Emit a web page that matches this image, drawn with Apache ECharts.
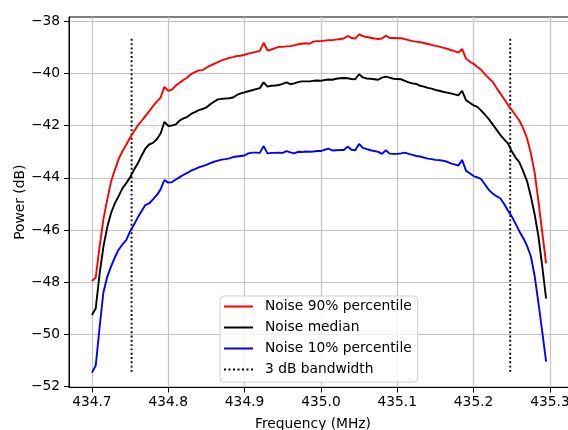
<!DOCTYPE html>
<html>
<head>
<meta charset="utf-8">
<script src="https://cdn.jsdelivr.net/npm/echarts@6/dist/echarts.min.js"></script>
<style>html,body{margin:0;padding:0;background:#fff}#c{width:568px;height:430px}</style>
</head>
<body>
<div id="c"></div>
<script>
const freq = [
434.700,434.705,434.710,434.715,434.720,434.725,434.730,434.735,434.740,434.745,
434.750,434.755,434.760,434.765,434.770,434.775,434.780,434.785,434.790,434.795,
434.800,434.805,434.810,434.815,434.820,434.825,434.830,434.835,434.840,434.845,
434.850,434.855,434.860,434.865,434.870,434.875,434.880,434.885,434.890,434.895,
434.900,434.905,434.910,434.915,434.920,434.925,434.930,434.935,434.940,434.945,
434.950,434.955,434.960,434.965,434.970,434.975,434.980,434.985,434.990,434.995,
435.000,435.005,435.010,435.015,435.020,435.025,435.030,435.035,435.040,435.045,
435.050,435.055,435.060,435.065,435.070,435.075,435.080,435.085,435.090,435.095,
435.100,435.105,435.110,435.115,435.120,435.125,435.130,435.135,435.140,435.145,
435.150,435.155,435.160,435.165,435.170,435.175,435.180,435.185,435.190,435.195,
435.200,435.205,435.210,435.215,435.220,435.225,435.230,435.235,435.240,435.245,
435.250,435.255,435.260,435.265,435.270,435.275,435.280,435.285,435.290,435.295];

const noise90 = [
-47.95,-47.82,-46.65,-45.60,-44.85,-44.15,-43.70,-43.28,-42.98,-42.73,
-42.46,-42.22,-42.00,-41.82,-41.63,-41.45,-41.25,-41.08,-40.92,-40.51,
-40.66,-40.62,-40.46,-40.35,-40.25,-40.15,-40.02,-39.95,-39.88,-39.87,
-39.78,-39.70,-39.63,-39.56,-39.50,-39.45,-39.40,-39.37,-39.33,-39.32,
-39.28,-39.24,-39.20,-39.17,-39.13,-38.82,-39.12,-39.08,-39.03,-38.98,
-38.98,-38.96,-38.95,-38.92,-38.88,-38.86,-38.84,-38.86,-38.78,-38.76,
-38.76,-38.74,-38.72,-38.72,-38.70,-38.68,-38.66,-38.56,-38.64,-38.66,
-38.50,-38.57,-38.60,-38.63,-38.66,-38.68,-38.66,-38.55,-38.64,-38.64,
-38.65,-38.65,-38.68,-38.72,-38.76,-38.78,-38.80,-38.83,-38.87,-38.90,
-38.94,-38.97,-39.01,-39.05,-39.10,-39.14,-39.20,-39.06,-39.42,-39.55,
-39.63,-39.75,-39.86,-40.03,-40.18,-40.32,-40.55,-40.76,-40.98,-41.20,
-41.40,-41.60,-41.80,-42.10,-42.48,-43.05,-43.80,-44.90,-46.10,-47.27];

const noiseMedian = [
-49.25,-49.00,-47.70,-46.65,-45.90,-45.35,-44.98,-44.70,-44.40,-44.20,
-43.98,-43.70,-43.45,-43.15,-42.88,-42.72,-42.66,-42.52,-42.30,-41.85,
-42.01,-41.99,-41.95,-41.80,-41.72,-41.66,-41.55,-41.48,-41.40,-41.36,
-41.30,-41.18,-41.08,-40.99,-40.97,-40.96,-40.95,-40.92,-40.82,-40.76,
-40.72,-40.68,-40.64,-40.60,-40.56,-40.34,-40.50,-40.47,-40.46,-40.44,
-40.40,-40.34,-40.41,-40.38,-40.33,-40.30,-40.30,-40.30,-40.28,-40.27,
-40.28,-40.25,-40.23,-40.24,-40.20,-40.18,-40.17,-40.18,-40.21,-40.22,
-40.03,-40.15,-40.19,-40.20,-40.22,-40.24,-40.16,-40.12,-40.16,-40.20,
-40.21,-40.22,-40.28,-40.34,-40.38,-40.40,-40.47,-40.50,-40.55,-40.58,
-40.63,-40.66,-40.70,-40.73,-40.76,-40.80,-40.84,-40.66,-41.02,-41.12,
-41.22,-41.28,-41.42,-41.58,-41.75,-41.95,-42.15,-42.35,-42.52,-42.68,
-42.98,-43.22,-43.40,-43.75,-44.12,-44.70,-45.40,-46.25,-47.40,-48.62];

const noise10 = [
-51.46,-51.20,-49.75,-48.40,-47.80,-47.40,-47.05,-46.75,-46.55,-46.38,
-46.05,-45.80,-45.52,-45.28,-45.04,-44.98,-44.82,-44.66,-44.44,-44.08,
-44.18,-44.16,-44.06,-43.97,-43.88,-43.81,-43.72,-43.66,-43.60,-43.55,
-43.50,-43.43,-43.38,-43.34,-43.30,-43.28,-43.25,-43.20,-43.18,-43.16,
-43.14,-43.06,-43.03,-43.03,-43.04,-42.78,-43.06,-43.04,-43.04,-43.03,
-43.04,-42.97,-43.02,-43.06,-43.00,-43.01,-42.99,-43.00,-42.99,-42.97,
-42.97,-42.92,-42.88,-42.95,-42.94,-42.93,-42.93,-42.80,-42.92,-42.94,
-42.70,-42.85,-42.90,-42.94,-42.97,-43.00,-43.08,-42.94,-43.07,-43.08,
-43.08,-43.06,-43.03,-43.08,-43.12,-43.16,-43.18,-43.22,-43.26,-43.28,
-43.31,-43.32,-43.34,-43.38,-43.44,-43.48,-43.53,-43.31,-43.72,-43.82,
-43.93,-43.98,-44.05,-44.25,-44.46,-44.60,-44.70,-44.78,-45.00,-45.25,
-45.48,-45.75,-46.05,-46.30,-46.60,-47.00,-47.75,-48.80,-49.90,-51.04];

const bwEdges = [434.752, 435.248];
const bwRange = [-51.43, -38.61];
const xTicks = [434.7, 434.8, 434.9, 435.0, 435.1, 435.2, 435.3];
const yTicks = [-52, -50, -48, -46, -44, -42, -40, -38];
const seriesNames = ['Noise 90% percentile', 'Noise median', 'Noise 10% percentile', '3 dB bandwidth'];

const FONT = 'DejaVu Sans';
const FS = 13.8;
const pair = arr => freq.map((f, i) => [f, arr[i]]);
const lineSeries = (name, data, color) => ({
  name, type: 'line', data: pair(data), symbol: 'none', showSymbol: false,
  lineStyle: { color, width: 1.9 }, itemStyle: { color }, animation: false, z: 3
});
const bwSeries = x => ({
  name: seriesNames[3], type: 'line', symbol: 'none', showSymbol: false,
  data: [[x, bwRange[0]], [x, bwRange[1]]],
  lineStyle: { color: '#000', width: 1.9, type: [1.9, 2.4] }, itemStyle: { color: '#000' },
  animation: false, z: 2
});
const dotIcon = 'path://M0,0h2v2h-2z M4.5,0h2v2h-2z M9,0h2v2h-2z M13.5,0h2v2h-2z M18,0h2v2h-2z M22.5,0h2v2h-2z M27,0h2v2h-2z';

const chart = echarts.init(document.getElementById('c'), null, { renderer: 'canvas' });
chart.setOption({
  animation: false,
  backgroundColor: '#fff',
  grid: { left: 69, top: 17, right: -1, bottom: 42.5, containLabel: false, outerBoundsMode: 'none',
    show: true, borderColor: '#000', borderWidth: 1, backgroundColor: 'transparent' },
  xAxis: {
    type: 'value', min: 434.67, max: 435.325,
    name: 'Frequency (MHz)', nameLocation: 'middle', nameGap: 30, nameMoveOverlap: false,
    nameTextStyle: { fontFamily: FONT, fontSize: FS, color: '#000', padding: [0, 12, 0, 0] },
    axisLine: { show: true, onZero: false, lineStyle: { color: '#000', width: 1 } },
    axisTick: { show: true, inside: false, length: 5, lineStyle: { color: '#000', width: 1 }, customValues: xTicks },
    axisLabel: { customValues: xTicks, margin: 8, fontFamily: FONT, fontSize: FS, color: '#000',
      formatter: v => v.toFixed(1) },
    splitLine: { show: true, lineStyle: { color: '#c4c4c4', width: 1.2 } }
  },
  yAxis: {
    type: 'value', min: -52.03, max: -37.835,
    name: 'Power (dB)', nameLocation: 'middle', nameGap: 42, nameRotate: 90, nameMoveOverlap: false,
    nameTextStyle: { fontFamily: FONT, fontSize: FS, color: '#000' },
    axisLine: { show: true, onZero: false, lineStyle: { color: '#000', width: 1 } },
    axisTick: { show: true, inside: false, length: 5, lineStyle: { color: '#000', width: 1 }, customValues: yTicks },
    axisLabel: { customValues: yTicks, margin: 9, fontFamily: FONT, fontSize: FS, color: '#000',
      formatter: v => String(Math.round(v)).replace('-', '\u2212') },
    splitLine: { show: true, lineStyle: { color: '#c4c4c4', width: 1.2 } }
  },
  legend: {
    orient: 'vertical', left: 220, top: 296,
    data: [
      { name: seriesNames[0], icon: 'rect' },
      { name: seriesNames[1], icon: 'rect' },
      { name: seriesNames[2], icon: 'rect' },
      { name: seriesNames[3], icon: dotIcon }
    ],
    itemWidth: 29, itemHeight: 2, itemGap: 0,
    padding: [0, 6, 2, 4],
    backgroundColor: 'rgba(255,255,255,0.8)', borderColor: '#d0d0d0', borderWidth: 1, borderRadius: 4,
    textStyle: { fontFamily: FONT, fontSize: FS, color: '#000', lineHeight: 21, padding: [0, 0, 0, 7] },
    selectedMode: false
  },
  series: [
    lineSeries(seriesNames[0], noise90, '#ff0000'),
    lineSeries(seriesNames[1], noiseMedian, '#000000'),
    lineSeries(seriesNames[2], noise10, '#0000ff'),
    bwSeries(bwEdges[0]),
    bwSeries(bwEdges[1])
  ]
});
</script>
</body>
</html>
